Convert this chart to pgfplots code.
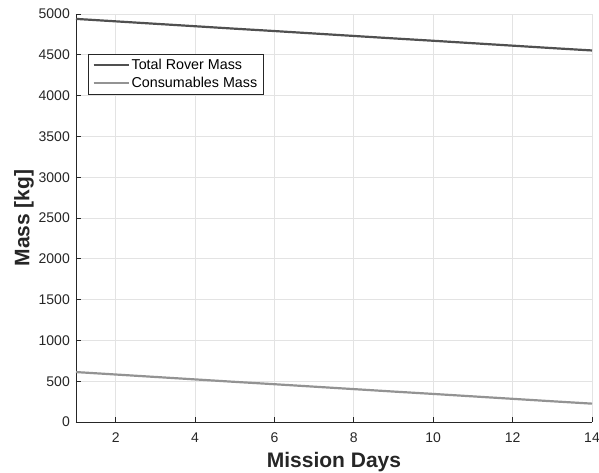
\documentclass[border=0pt]{standalone}
\usepackage{pgfplots}
\pgfplotsset{compat=1.18}
\usepackage{fontspec}
\setmainfont{Liberation Sans}

\definecolor{axisdark}{HTML}{262626}
\definecolor{gridgray}{HTML}{E3E3E3}
\definecolor{totalgray}{HTML}{505050}
\definecolor{consgray}{HTML}{939393}

\begin{document}
\begin{tikzpicture}
\begin{axis}[
  scale only axis,
  width=516pt, height=408pt,
  xmin=1, xmax=14, ymin=0, ymax=5000,
  xtick={2,4,...,14},
  ytick={0,500,...,5000},
  axis x line=bottom, axis y line=left,
  axis line style={axisdark, line width=0.9pt, -},
  tick align=inside,
  major tick length=5pt,
  tick style={axisdark, line width=0.8pt},
  grid=major,
  major grid style={gridgray, line width=0.8pt},
  /pgf/number format/assume math mode=true,
  /pgf/number format/1000 sep={},
  ticklabel style={font=\fontsize{14}{16}\selectfont, text=axisdark},
  yticklabel style={inner sep=0pt, xshift=-6pt},
  xticklabel style={inner sep=0pt, yshift=-11pt},
  xlabel={\textbf{Mission Days}},
  ylabel={\textbf{Mass [kg]}},
  label style={font=\fontsize{21}{25}\selectfont, text=black!85},
  xlabel style={at={(axis description cs:0.5,-0.1103)}, anchor=base},
  ylabel style={at={(axis description cs:-0.1008,0.5)}, anchor=center},
  legend style={
    at={(axis description cs:0.0233,0.902)}, anchor=north west,
    font=\fontsize{14.3}{16}\selectfont,
    draw=axisdark, line width=0.8pt,
    inner xsep=4pt, inner ysep=3pt,
    row sep=2pt,
    cells={anchor=west},
  },
  legend image code/.code={\draw[#1, line width=2.2pt] (0pt,0pt) -- (35pt,0pt);},
  legend cell align=left,
]
\addplot[totalgray, line width=2.2pt] coordinates {
  (1,4940) (2,4910) (3,4880) (4,4850) (5,4820) (6,4791) (7,4761)
  (8,4731) (9,4701) (10,4672) (11,4642) (12,4612) (13,4582) (14,4553)
};
\addlegendentry{Total Rover Mass}
\addplot[consgray, line width=2.2pt] coordinates {
  (1,612) (2,582) (3,552) (4,522) (5,492) (6,463) (7,433)
  (8,403) (9,373) (10,344) (11,314) (12,284) (13,254) (14,225)
};
\addlegendentry{Consumables Mass}
\end{axis}
\pgfresetboundingbox
\path (current axis.south west) ++(-76pt,-51pt) rectangle ([shift={(7pt,14pt)}]current axis.north east);
\end{tikzpicture}
\end{document}
